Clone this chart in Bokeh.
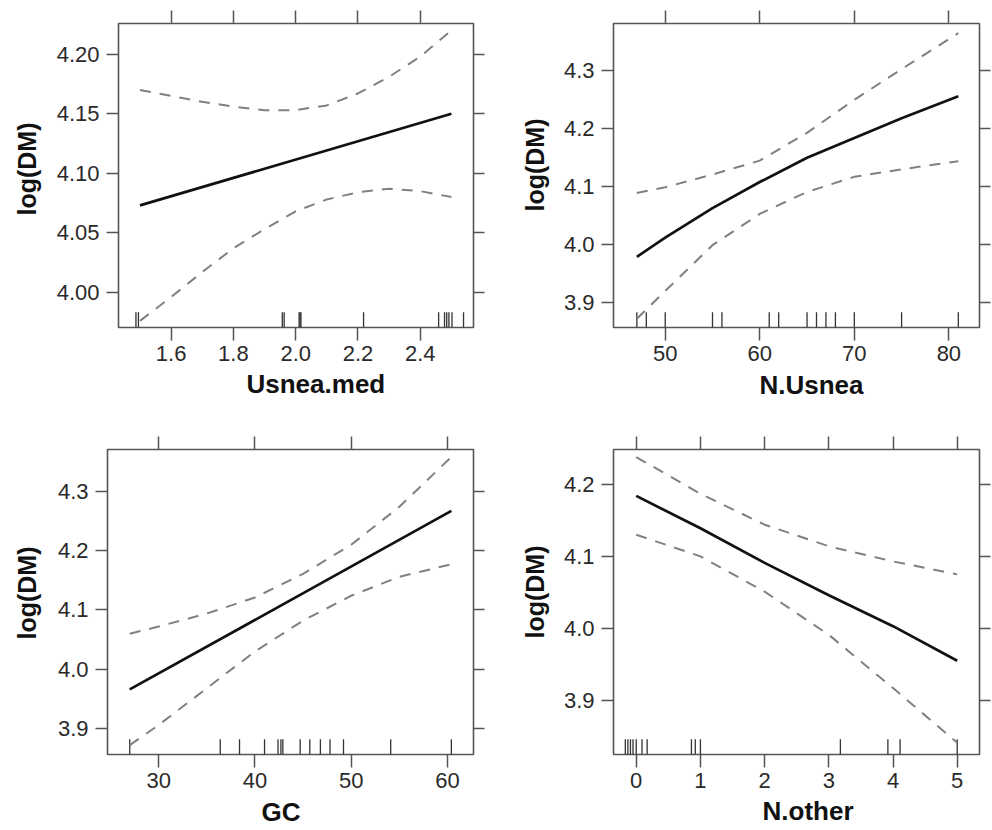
from bokeh.plotting import figure
from bokeh.models import (LinearAxis, FixedTicker, Range1d, Title,
                          CustomJSTickFormatter)
from bokeh.layouts import row, column
from bokeh.embed import file_html
from bokeh.resources import INLINE

# ---------------- data ----------------
# Panel 1: Usnea.med
x1_fit = [1.50, 2.50]
y1_fit = [4.073, 4.150]
x1_ci = [1.50, 1.60, 1.70, 1.80, 1.90, 2.00, 2.10, 2.20, 2.30, 2.40, 2.50]
y1_up = [4.170, 4.165, 4.160, 4.156, 4.153, 4.153, 4.157, 4.167, 4.181, 4.198, 4.220]
y1_lo = [3.976, 3.996, 4.017, 4.037, 4.053, 4.068, 4.078, 4.084, 4.087, 4.085, 4.080]
rug1 = [1.487, 1.495, 1.957, 1.963, 2.011, 2.014, 2.017, 2.218, 2.459, 2.478,
        2.485, 2.492, 2.502, 2.539]
xt1 = [1.6, 1.8, 2.0, 2.2, 2.4]
yt1 = [4.00, 4.05, 4.10, 4.15, 4.20]

# Panel 2: N.Usnea
x2 = [47, 50, 55, 60, 65, 70, 75, 81]
y2_fit = [3.979, 4.012, 4.063, 4.108, 4.150, 4.184, 4.218, 4.256]
y2_up = [4.089, 4.099, 4.121, 4.145, 4.193, 4.250, 4.303, 4.365]
y2_lo = [3.872, 3.920, 3.999, 4.053, 4.091, 4.117, 4.130, 4.144]
rug2 = [47, 48, 50, 55, 56, 61, 62, 65, 66, 67, 68, 70, 75, 81]
xt2 = [50, 60, 70, 80]
yt2 = [3.9, 4.0, 4.1, 4.2, 4.3]

# Panel 3: GC
x3_fit = [27.0, 60.4]
y3_fit = [3.966, 4.267]
x3_ci = [27.0, 30, 35, 40, 45, 50, 55, 60.4]
y3_up = [4.060, 4.072, 4.094, 4.121, 4.161, 4.210, 4.274, 4.358]
y3_lo = [3.872, 3.906, 3.968, 4.030, 4.082, 4.124, 4.156, 4.177]
rug3 = [27.0, 36.4, 38.4, 41.0, 42.4, 42.7, 42.9, 44.7, 45.7, 46.8, 47.8, 49.2,
        54.1, 60.4]
xt3 = [30, 40, 50, 60]
yt3 = [3.9, 4.0, 4.1, 4.2, 4.3]

# Panel 4: N.other
x4 = [0, 1, 2, 3, 4, 5]
y4_fit = [4.184, 4.139, 4.091, 4.046, 4.003, 3.955]
y4_up = [4.238, 4.187, 4.144, 4.114, 4.093, 4.075]
y4_lo = [4.130, 4.100, 4.051, 3.991, 3.917, 3.841]
rug4 = [-0.17, -0.13, -0.09, -0.05, 0.0, 0.09, 0.17, 0.86, 0.92, 1.0, 3.18,
        3.92, 4.11, 5.0]
xt4 = [0, 1, 2, 3, 4, 5]
yt4 = [3.9, 4.0, 4.1, 4.2]

ylabel = "log(DM)"

FONT = "Liberation Sans"
FRAME = "#555555"
TXT = "#2a2a2a"


def fmt(v, nd):
    return ("%." + str(nd) + "f") % v


def blank_axis(ticks, tick_out, color):
    ax = LinearAxis(ticker=FixedTicker(ticks=ticks),
                    formatter=CustomJSTickFormatter(code="return ''"))
    ax.axis_line_color = None
    ax.minor_tick_line_color = None
    ax.major_tick_in = 0
    ax.major_tick_out = tick_out
    ax.major_tick_line_color = color
    ax.major_tick_line_width = 1.5
    ax.major_label_text_font_size = "1px"
    ax.major_label_standoff = 0
    return ax


def panel(w, h, borders, xr, yr, xticks, yticks, xnd, ynd, xlabel,
          xoff, xgap, xstand, yoff, ygap,
          xfit, yfit, xci, yup, ylo, rug):
    bl, br, bt, bb = borders
    p = figure(width=w, height=h, x_range=Range1d(*xr), y_range=Range1d(*yr),
               output_backend="svg", toolbar_location=None,
               min_border_left=bl, min_border_right=br,
               min_border_top=bt, min_border_bottom=bb,
               x_axis_location=None, y_axis_location=None)
    p.grid.visible = False
    p.outline_line_color = FRAME
    p.outline_line_width = 1.6
    p.background_fill_color = "white"
    p.border_fill_color = "white"

    xb = LinearAxis(ticker=FixedTicker(ticks=xticks),
                    major_label_overrides={t: fmt(t, xnd) for t in xticks})
    yl = LinearAxis(ticker=FixedTicker(ticks=yticks),
                    major_label_overrides={t: fmt(t, ynd) for t in yticks})
    for ax in (xb, yl):
        ax.axis_line_color = None
        ax.minor_tick_line_color = None
        ax.major_tick_in = 0
        ax.major_tick_line_color = FRAME
        ax.major_tick_line_width = 1.5
        ax.major_label_text_font = FONT
        ax.major_label_text_font_size = "22px"
        ax.major_label_text_color = TXT
    xb.major_tick_out = 13
    xb.major_label_standoff = 5
    yl.major_tick_out = 12
    yl.major_label_standoff = 7

    p.add_layout(xb, "below")
    p.add_layout(blank_axis(xticks, xgap, "white"), "below")   # spacing only
    p.add_layout(yl, "left")
    p.add_layout(blank_axis(yticks, ygap, "white"), "left")    # spacing only
    p.add_layout(blank_axis(xticks, 13, FRAME), "above")
    p.add_layout(blank_axis(yticks, 11, FRAME), "right")

    # axis titles, placed like the reference
    tx = Title(text=xlabel, align="left", offset=xoff, standoff=xstand,
               vertical_align="bottom",
               text_font=FONT, text_font_style="bold", text_font_size="26px",
               text_color="#111111")
    ty = Title(text=ylabel, align="left", offset=yoff, standoff=0,
               text_font=FONT, text_font_style="bold", text_font_size="25px",
               text_color="#111111")
    p.add_layout(tx, "below")
    p.add_layout(ty, "left")

    # rug
    y0 = yr[0]
    y1 = yr[0] + 0.05 * (yr[1] - yr[0])
    p.segment(x0=rug, x1=rug, y0=[y0] * len(rug), y1=[y1] * len(rug),
              line_color="#333333", line_width=1.3)
    # confidence bands
    p.line(xci, yup, line_color="#808080", line_width=2, line_dash="11 9")
    p.line(xci, ylo, line_color="#808080", line_width=2, line_dash="11 9")
    # fit
    p.line(xfit, yfit, line_color="#111111", line_width=2.7)
    return p


p1 = panel(496, 415, (118, 23, 23, 88), (1.431, 2.571), (3.9704, 4.2258),
           xt1, yt1, 1, 2, "Usnea.med", 128, 3, 0, 112, 13,
           x1_fit, y1_fit, x1_ci, y1_up, y1_lo, rug1)
p2 = panel(496, 415, (117, 13, 23, 87), (44.53, 83.24), (3.8569, 4.3817),
           xt2, yt2, 0, 1, "N.Usnea", 146, 4, 0, 116, 12,
           x2, y2_fit, x2, y2_up, y2_lo, rug2)
p3 = panel(496, 415, (107, 23, 33, 76), (24.69, 62.70), (3.8563, 4.3706),
           xt3, yt3, 0, 1, "GC", 154, 7, -6, 115, 14,
           x3_fit, y3_fit, x3_ci, y3_up, y3_lo, rug3)
p4 = panel(496, 415, (117, 13, 34, 75), (-0.354, 5.347), (3.8247, 4.2485),
           xt4, yt4, 0, 1, "N.other", 149, 6, -6, 116, 12,
           x4, y4_fit, x4, y4_up, y4_lo, rug4)

layout = column(row(p1, p2), row(p3, p4))
open("out.html", "w").write(file_html(layout, INLINE))
